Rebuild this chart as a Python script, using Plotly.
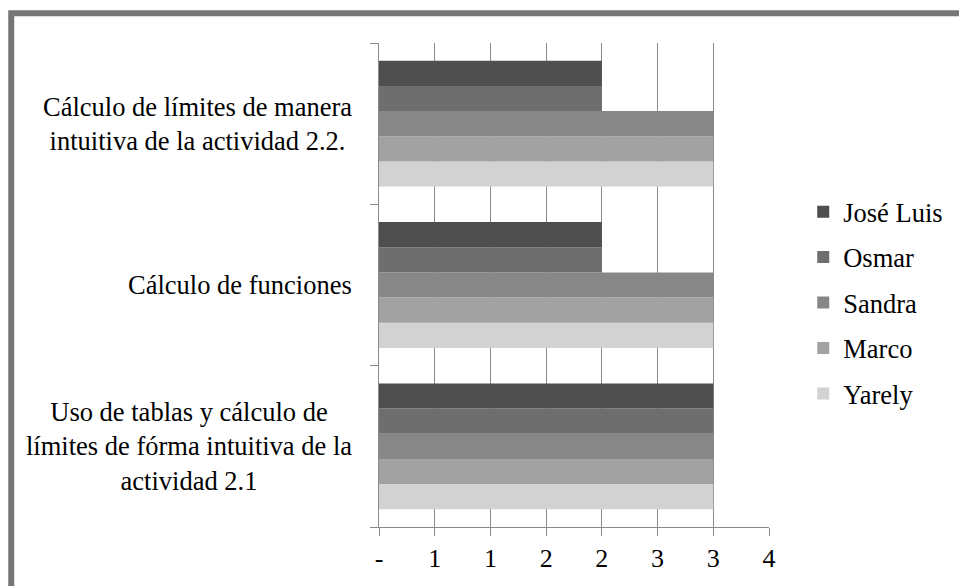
import plotly.graph_objects as go

# Activities (bottom to top on the category axis)
categories = [
    "Uso de tablas y cálculo de<br>límites de fórma intuitiva de la<br>actividad 2.1",
    "Cálculo de funciones",
    "Cálculo de límites de manera<br>intuitiva de la actividad 2.2.",
]

# Scores per student, same order as categories
students = ["José Luis", "Osmar", "Sandra", "Marco", "Yarely"]
jose_luis = [3, 2, 2]
osmar = [3, 2, 2]
sandra = [3, 3, 3]
marco = [3, 3, 3]
yarely = [3, 3, 3]

# Value axis ticks (labels rounded to whole numbers)
x_tickvals = [0, 0.5, 1, 1.5, 2, 2.5, 3, 3.5]
x_ticktext = ["-", "1", "1", "2", "2", "3", "3", "4"]

series = {
    "José Luis": jose_luis,
    "Osmar": osmar,
    "Sandra": sandra,
    "Marco": marco,
    "Yarely": yarely,
}
colors = {
    "José Luis": "#4f4f4f",
    "Osmar": "#6e6e6e",
    "Sandra": "#878787",
    "Marco": "#a2a2a2",
    "Yarely": "#d2d2d2",
}

FONT = "Times New Roman, Liberation Serif, serif"
FS = 26.5

fig = go.Figure()
# Last trace sits at the top of each group, so add in reverse order;
# legendrank keeps José Luis first in the legend.
for name in reversed(students):
    fig.add_trace(go.Bar(
        y=categories,
        x=series[name],
        name=name,
        orientation="h",
        legendgroup=name,
        legendrank=students.index(name) + 1,
        marker=dict(color=colors[name], line=dict(width=0)),
    ))

# Category labels: block right-aligned to the axis, lines centred
annotations = [
    dict(
        x=-0.064, xref="paper", y=cat, yref="y",
        text=cat, showarrow=False, xanchor="right", yanchor="middle",
        align="center", font=dict(family=FONT, size=FS, color="#000000"),
    )
    for cat in categories
]

fig.update_layout(
    width=959, height=586,
    margin=dict(l=379, r=189, t=43, b=59),
    paper_bgcolor="white", plot_bgcolor="white",
    barmode="group", bargap=0.22, bargroupgap=0,
    font=dict(family=FONT, size=FS, color="#000000"),
    showlegend=True,
    legend=dict(
        x=1.085, xanchor="left", y=0.463, yanchor="middle",
        traceorder="grouped", tracegroupgap=8,
        font=dict(family=FONT, size=FS, color="#000000"),
        bgcolor="rgba(0,0,0,0)",
    ),
    xaxis=dict(
        range=[0, 3.5],
        tickmode="array", tickvals=x_tickvals, ticktext=x_ticktext,
        showgrid=True, gridcolor="#8a8a8a", gridwidth=1,
        showline=True, linecolor="#8a8a8a", linewidth=1,
        ticks="outside", ticklen=8, tickcolor="#8a8a8a",
        zeroline=False,
        tickfont=dict(family=FONT, size=26, color="#000000"),
    ),
    yaxis=dict(
        type="category",
        showline=True, linecolor="#8a8a8a", linewidth=1,
        ticks="outside", tickson="boundaries", ticklen=8, tickcolor="#8a8a8a",
        showticklabels=False, showgrid=False, zeroline=False,
    ),
    annotations=annotations,
    shapes=[dict(
        type="rect", xref="paper", yref="paper",
        x0=-0.943, x1=2.0, y0=-1.0, y1=1.0614,
        line=dict(color="#767676", width=6), fillcolor="rgba(0,0,0,0)",
        layer="above",
    )],
)

fig.write_html("out.html")
